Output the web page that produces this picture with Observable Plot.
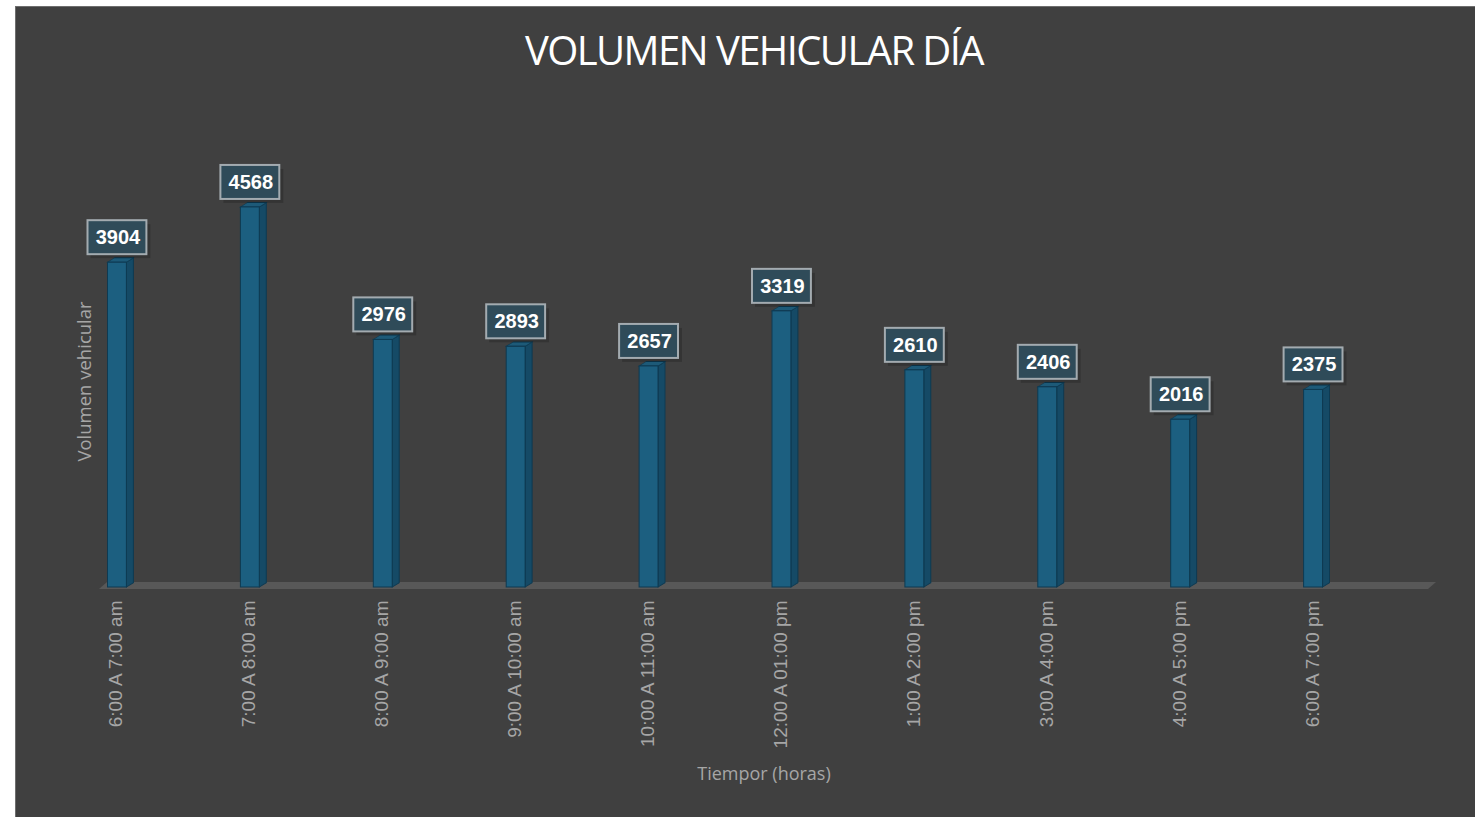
<!DOCTYPE html>
<html>
<head>
<meta charset="utf-8">
<script src="https://cdn.jsdelivr.net/npm/d3@7"></script>
<script src="https://cdn.jsdelivr.net/npm/@observablehq/plot@0.6"></script>
<style>
  html, body { margin: 0; padding: 0; background: #ffffff; }
  #wrap { position: relative; width: 1475px; height: 817px; overflow: hidden; }
  #panel { position: absolute; left: 15px; top: 6px; width: 1470px; height: 820px;
           background: #404040; border-left: 1.5px solid #6e6e6e; border-top: 1.5px solid #6e6e6e; box-sizing: border-box; }
  #title { position: absolute; left: 0; width: 1508px; top: 26px; text-align: center;
           font-family: "Open Sans", sans-serif; font-size: 40px; color: #ffffff; letter-spacing: -1.6px; line-height: 48px; }
  #chart { position: absolute; left: 0; top: 0; }
  .side { transform-box: fill-box; transform-origin: 0 0; transform: skewY(-32deg); }
  .cap { transform-box: fill-box; transform-origin: 0 100%; transform: skewX(-58deg); }
  .floor { transform-box: fill-box; transform-origin: 0 100%; transform: skewX(-48.8deg); }
</style>
</head>
<body>
<div id="wrap">
  <div id="panel"></div>
  <div id="title">VOLUMEN VEHICULAR DÍA</div>
  <div id="chart"></div>
</div>
<script>
const categories = ["6:00 A 7:00 am", "7:00 A 8:00 am", "8:00 A 9:00 am", "9:00 A 10:00 am", "10:00 A 11:00 am",
                    "12:00 A 01:00 pm", "1:00 A 2:00 pm", "3:00 A 4:00 pm", "4:00 A 5:00 pm", "6:00 A 7:00 pm"];
const values = [3904, 4568, 2976, 2893, 2657, 3319, 2610, 2406, 2016, 2375];
const xTitle = "Tiempor (horas)";
const yTitle = "Volumen vehicular";

const data = categories.map((c, i) => ({cat: c, v: values[i]}));

const plot = Plot.plot({
  width: 1475,
  height: 817,
  marginTop: 171,
  marginBottom: 230,
  marginLeft: 99,
  marginRight: 47,
  style: {background: "transparent", overflow: "visible"},
  x: {domain: categories, range: [50.5, 1379.5], padding: 0, round: false, axis: null},
  y: {domain: [0, 5000], axis: null},
  marks: [
    // floor
    Plot.frame({fill: "#585858", stroke: null, insetTop: 411, insetBottom: -2, ariaDescription: "floor"}),
    // bar side face
    Plot.barY(data, {x: "cat", y: "v", insetLeft: 76, insetRight: 50, fill: "#154a66", stroke: "#0e3a52", strokeWidth: 1, ariaDescription: "side"}),
    // bar top cap
    Plot.barY(data, {x: "cat", y1: "v", y2: "v", insetLeft: 57, insetRight: 57, insetTop: -4.4, insetBottom: 0, fill: "#1d5a78", stroke: "#0e3a52", strokeWidth: 1, ariaDescription: "cap"}),
    // bar front face
    Plot.barY(data, {x: "cat", y: "v", insetLeft: 57, insetRight: 57, fill: "#1c5f80", stroke: "#0e3a52", strokeWidth: 1}),
    // label shadow
    Plot.barY(data, {x: "cat", y1: "v", y2: "v", insetLeft: 36, insetRight: 37, insetTop: -42, insetBottom: 8, dx: 4, dy: 4, fill: "#000", fillOpacity: 0.18}),
    // label box
    Plot.barY(data, {x: "cat", y1: "v", y2: "v", insetLeft: 37, insetRight: 37, insetTop: -42, insetBottom: 8, fill: "#2f4b59", stroke: "#a3abb0", strokeWidth: 2}),
    // label text
    Plot.text(data, {x: "cat", y: "v", text: d => String(d.v), dy: -25, dx: 0.5, fill: "#ffffff", fontSize: 20, fontWeight: "bold", fontFamily: "Liberation Sans, Arial, sans-serif"}),
    // category tick labels
    Plot.text(categories, {x: d => d, frameAnchor: "bottom", dx: 5, dy: 13, rotate: -90, textAnchor: "end", fill: "#a6a6a6", fontSize: 19, fontFamily: "Liberation Sans, Arial, sans-serif"}),
    // axis titles
    Plot.text([xTitle], {frameAnchor: "bottom", dx: 0, dy: 192, fill: "#a6a6a6", fontSize: 18, fontFamily: "Open Sans, sans-serif"}),
    Plot.text([yTitle], {frameAnchor: "left", dx: -14, dy: 2, rotate: -90, textAnchor: "middle", fill: "#a6a6a6", fontSize: 18.5, fontFamily: "Open Sans, sans-serif"})
  ]
});

d3.select(plot).selectAll('g[aria-description="side"] rect').attr("class", "side");
d3.select(plot).selectAll('g[aria-description="cap"] rect').attr("class", "cap");
d3.select(plot).selectAll('[aria-description="floor"]').each(function() {
  if (this.tagName === "rect") d3.select(this).attr("class", "floor");
  else d3.select(this).selectAll("rect").attr("class", "floor");
});
document.getElementById("chart").appendChild(plot);
</script>
</body>
</html>
